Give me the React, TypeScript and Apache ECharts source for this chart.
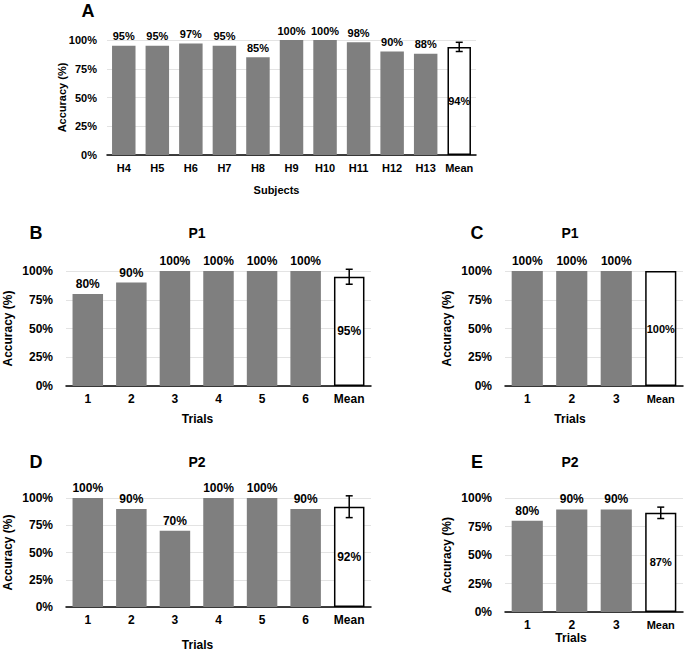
import React, { useEffect, useRef } from 'react';
import * as echarts from 'echarts';

// ---------- data ----------
const subjectsA = ['H4', 'H5', 'H6', 'H7', 'H8', 'H9', 'H10', 'H11', 'H12', 'H13'];
const accuracyA = [95, 95, 97, 95, 85, 100, 100, 98, 90, 88];
const meanA = 94;
const errA = 4;

const trialsB = ['1', '2', '3', '4', '5', '6'];
const accuracyB = [80, 90, 100, 100, 100, 100];
const meanB = 95;
const errB = 6.5;

const trialsC = ['1', '2', '3'];
const accuracyC = [100, 100, 100];
const meanC = 100;
const errC = 0;

const trialsD = ['1', '2', '3', '4', '5', '6'];
const accuracyD = [100, 90, 70, 100, 100, 90];
const meanD = 92;
const errD = 10;

const trialsE = ['1', '2', '3'];
const accuracyE = [80, 90, 90];
const meanE = 87;
const errE = 5;

const yTickValues = [0, 25, 50, 75, 100];

// ---------- layout ----------
const FONT = "'Liberation Sans', Arial, Helvetica, sans-serif";

const panels = [
  { letter: 'A', title: '', cats: subjectsA, vals: accuracyA, mean: meanA, err: errA, xName: 'Subjects', fs: 11, xShift: -15,
    grid: { left: 107, top: 40, width: 369, height: 115 }, yGap: 40, xGap: 29, letterPos: [88, 11], titlePos: [0, 0], meanFont: 11 },
  { letter: 'B', title: 'P1', cats: trialsB, vals: accuracyB, mean: meanB, err: errB, xName: 'Trials', fs: 12, xShift: -21,
    grid: { left: 66, top: 271, width: 305, height: 115 }, yGap: 52, xGap: 27, letterPos: [36, 233], titlePos: [197, 233], meanFont: 12 },
  { letter: 'C', title: 'P1', cats: trialsC, vals: accuracyC, mean: meanC, err: errC, xName: 'Trials', fs: 12, xShift: -24,
    grid: { left: 505, top: 271, width: 178, height: 115 }, yGap: 52, xGap: 27, letterPos: [477, 233], titlePos: [570, 233], meanFont: 11 },
  { letter: 'D', title: 'P2', cats: trialsD, vals: accuracyD, mean: meanD, err: errD, xName: 'Trials', fs: 12, xShift: -21,
    grid: { left: 66, top: 498, width: 305, height: 114 }, yGap: 52, xGap: 32, letterPos: [36, 462], titlePos: [197, 462], meanFont: 12 },
  { letter: 'E', title: 'P2', cats: trialsE, vals: accuracyE, mean: meanE, err: errE, xName: 'Trials', fs: 12, xShift: -23,
    grid: { left: 505, top: 498, width: 178, height: 114 }, yGap: 52, xGap: 18, letterPos: [477, 462], titlePos: [570, 462], meanFont: 11 },
];

function buildOption() {
  const grid: any[] = [];
  const xAxis: any[] = [];
  const yAxis: any[] = [];
  const series: any[] = [];
  const graphic: any[] = [];

  panels.forEach((p, i) => {
    grid.push({ ...p.grid, containLabel: false });
    const cats = [...p.cats, 'Mean'];
    const txt = { fontFamily: FONT, fontWeight: 'bold', fontSize: p.fs, color: '#000' };
    xAxis.push({
      type: 'category', gridIndex: i, data: cats,
      name: p.xName, nameLocation: 'middle', nameGap: p.xGap,
      nameTextStyle: { ...txt, padding: [0, -2 * p.xShift, 0, 0] },
      axisLine: { show: true, lineStyle: { color: '#000', width: 1.5 } },
      axisTick: { show: false },
      axisLabel: {
        ...txt, margin: 7, interval: 0,
        formatter: (v: string) => (v === 'Mean' && p.cats.length < 5 ? '{s|Mean}' : v),
        rich: { s: { fontFamily: FONT, fontWeight: 'bold', fontSize: 11, color: '#000' } },
      },
    });
    yAxis.push({
      type: 'value', gridIndex: i, min: 0, max: 100, interval: 25,
      name: 'Accuracy (%)', nameLocation: 'middle', nameGap: p.yGap, nameRotate: 90,
      nameMoveOverlap: false,
      nameTextStyle: txt,
      axisLine: { show: false }, axisTick: { show: false },
      axisLabel: { ...txt, margin: p.letter === 'A' ? 10 : 13,
        formatter: (v: number) => (yTickValues.includes(v) ? v + '%' : '') },
      splitLine: { show: true, lineStyle: { color: '#e3e3e3', width: 1 } },
    });
    const data: any[] = p.vals.map((v) => ({ value: v }));
    data.push({
      value: p.mean,
      itemStyle: { color: '#ffffff', borderColor: '#000', borderWidth: 1.5 },
      label: { position: 'inside', fontSize: p.meanFont },
    });
    series.push({
      type: 'bar', xAxisIndex: i, yAxisIndex: i, data, barWidth: '70%',
      itemStyle: { color: '#7f7f7f' },
      label: { show: true, position: 'top', distance: 4, formatter: (d: any) => d.value + '%', ...txt },
    });
    if (p.err > 0) {
      series.push({
        type: 'custom', xAxisIndex: i, yAxisIndex: i, z: 5,
        data: [[cats.length - 1, p.mean - p.err, p.mean + p.err]],
        encode: { x: 0, y: [1, 2] },
        renderItem: (params: any, api: any) => {
          const x = api.value(0);
          const lo = api.coord([x, api.value(1)]);
          const hi = api.coord([x, api.value(2)]);
          const w = 3.5;
          const style = { stroke: '#000', lineWidth: 1.5 };
          return {
            type: 'group',
            children: [
              { type: 'line', shape: { x1: lo[0], y1: lo[1], x2: hi[0], y2: hi[1] }, style },
              { type: 'line', shape: { x1: lo[0] - w, y1: lo[1], x2: lo[0] + w, y2: lo[1] }, style },
              { type: 'line', shape: { x1: hi[0] - w, y1: hi[1], x2: hi[0] + w, y2: hi[1] }, style },
            ],
          };
        },
      });
    }
    graphic.push({
      type: 'text', x: p.letterPos[0], y: p.letterPos[1],
      style: { text: p.letter, fontFamily: FONT, fontWeight: 'bold', fontSize: 18, fill: '#000', textAlign: 'center', textVerticalAlign: 'middle' },
    });
    if (p.title) {
      graphic.push({
        type: 'text', x: p.titlePos[0], y: p.titlePos[1],
        style: { text: p.title, fontFamily: FONT, fontWeight: 'bold', fontSize: 14, fill: '#000', textAlign: 'center', textVerticalAlign: 'middle' },
      });
    }
  });

  return { animation: false, backgroundColor: '#ffffff', grid, xAxis, yAxis, series, graphic };
}

export default function App() {
  const ref = useRef<HTMLDivElement>(null);
  useEffect(() => {
    if (!ref.current) return;
    const chart = echarts.init(ref.current, undefined, { renderer: 'svg' });
    chart.setOption(buildOption() as any);
    return () => chart.dispose();
  }, []);
  return <div ref={ref} style={{ position: 'absolute', left: 0, top: 0, width: 685, height: 652, background: '#fff' }} />;
}
